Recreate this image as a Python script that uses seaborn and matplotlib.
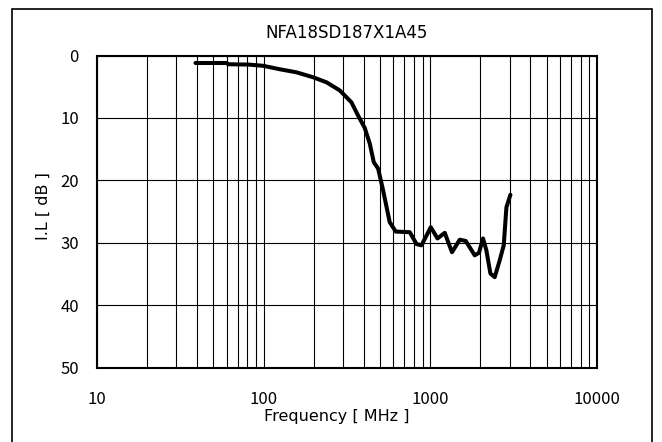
import matplotlib
matplotlib.use("Agg")
import matplotlib.pyplot as plt
import seaborn as sns
import pandas as pd
import numpy as np
from matplotlib.patches import Rectangle

title = "NFA18SD187X1A45"
freq_mhz = [39, 60, 61.3, 81, 99.5, 125, 158, 199, 239, 287, 337, 369, 405, 434, 459, 487,
            522, 572, 622, 755, 828, 887, 1009, 1107, 1224, 1353, 1506, 1636, 1852, 1965,
            2077, 2176, 2300, 2442, 2616, 2766, 2871, 3034]
il_db = [1.2, 1.2, 1.4, 1.45, 1.65, 2.2, 2.7, 3.5, 4.3, 5.6, 7.5, 9.6, 11.6, 14.1, 17.1, 18.1,
         21.6, 26.7, 28.2, 28.3, 30.2, 30.4, 27.5, 29.3, 28.4, 31.5, 29.5, 29.7, 32.0, 31.6,
         29.3, 31.2, 34.9, 35.5, 32.8, 30.4, 24.3, 22.3]
x_ticks = [10, 100, 1000, 10000]
y_ticks = [0, 10, 20, 30, 40, 50]

sns.set_style("white")
plt.rcParams['font.family'] = ['Noto Sans CJK JP', 'DejaVu Sans']

fig = plt.figure(figsize=(6.62, 4.42), dpi=100)
W, H = 662, 442
ax = fig.add_axes([97 / W, 1 - 367.7 / H, (596.7 - 97) / W, (367.7 - 55.5) / H])

df = pd.DataFrame({"f": freq_mhz, "il": il_db})
sns.lineplot(data=df, x="f", y="il", ax=ax, color="black", linewidth=2.9,
             sort=False, estimator=None)

ax.set_xscale("log")
ax.set_xlim(10, 10000)
ax.set_ylim(50, 0)
ax.set_xticks(x_ticks)
ax.set_xticklabels([str(t) for t in x_ticks])
ax.set_yticks(y_ticks)
ax.set_yticklabels([str(t) for t in y_ticks])
ax.xaxis.set_minor_locator(matplotlib.ticker.LogLocator(base=10, subs=np.arange(2, 10)))
ax.xaxis.set_minor_formatter(matplotlib.ticker.NullFormatter())

ax.grid(True, which="both", axis="x", color="black", linewidth=0.8)
ax.grid(True, which="major", axis="y", color="black", linewidth=0.8)
ax.tick_params(axis="both", which="both", length=0, labelsize=12, colors="black")
ax.tick_params(axis="x", pad=17)
ax.tick_params(axis="y", pad=13)
for s in ax.spines.values():
    s.set_visible(True)
    s.set_color("black")
    s.set_linewidth(1.5)

lab_font = ['DejaVu Sans']
ax.set_xlabel("Frequency [ MHz ]", fontsize=11.5, color="black", family=lab_font)
ax.xaxis.set_label_coords((336.7 - 97) / 500, -(417 - 367.7) / 312.2)
ax.xaxis.label.set_va("center")
ax.set_ylabel("I.L [ dB ]", fontsize=11.5, color="black", family=lab_font)
ax.yaxis.set_label_coords((43 - 97) / 500, (367.7 - 206) / 312.2)
ax.yaxis.label.set_va("center")

fig.text(347 / W, 1 - 33 / H, title, ha="center", va="center", fontsize=12,
         color="black", family=lab_font)

fig.patches.append(Rectangle((11.5 / W, -0.1), (652.3 - 11.5) / W, 1.1 - 9.5 / H,
                             transform=fig.transFigure, fill=False, edgecolor="black",
                             linewidth=1.2))

fig.savefig("out.png", dpi=100)
